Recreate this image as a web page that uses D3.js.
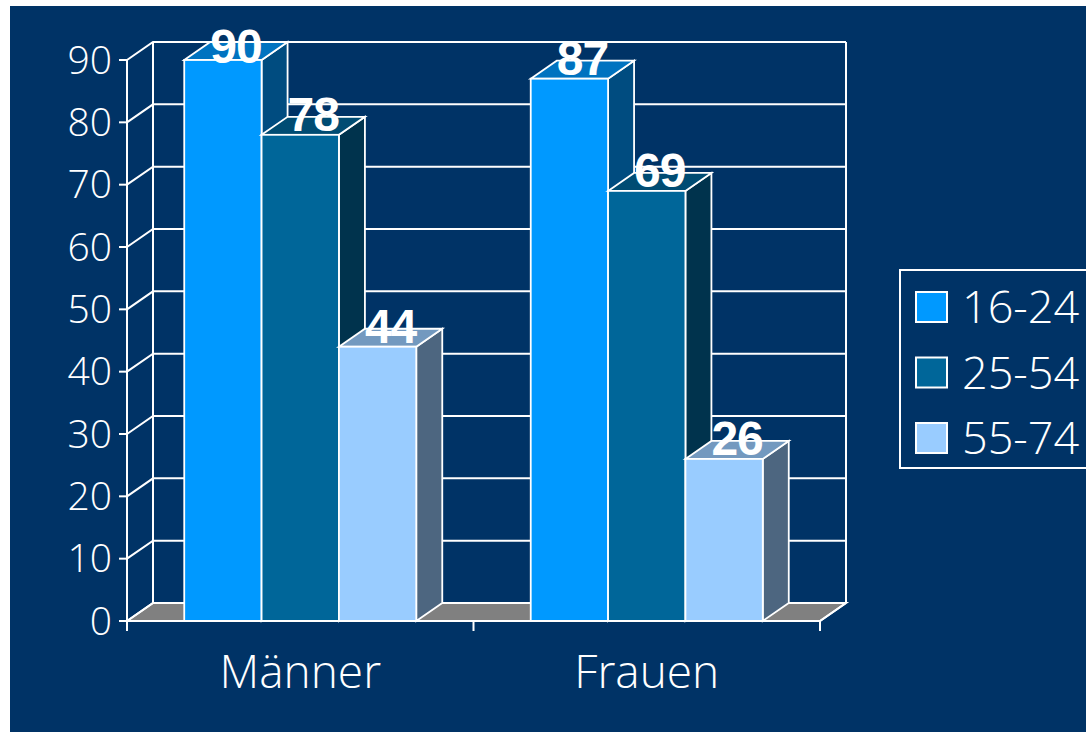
<!DOCTYPE html>
<html><head><meta charset="utf-8">
<script src="https://cdn.jsdelivr.net/npm/d3@7/dist/d3.min.js"></script>
<style>html,body{margin:0;padding:0;background:#fff;}svg{display:block;}</style>
</head><body>
<svg id="c" width="1086" height="732"></svg>
<script>
const categories = ["Männer", "Frauen"];
const seriesNames = ["16-24", "25-54", "55-74"];
const values16_24 = [90, 87];
const values25_54 = [78, 69];
const values55_74 = [44, 26];
const yTicks = [0, 10, 20, 30, 40, 50, 60, 70, 80, 90];

const seriesValues = [values16_24, values25_54, values55_74];
const frontColors = ["#0099FF", "#006699", "#99CCFF"];
const topColors = ["#0073C0", "#004C73", "#7399BF"];
const sideColors = ["#004C80", "#00334D", "#4D6680"];

const svg = d3.select("#c");
svg.append("rect").attr("x", 10).attr("y", 6).attr("width", 1076).attr("height", 726).attr("fill", "#003366");

const dx = 26, dy = -18;
const y = d3.scaleLinear().domain([0, 90]).range([621, 60]);
const x = d3.scaleBand().domain(categories).range([127, 820]).paddingInner(0).paddingOuter(0);
const xs = d3.scaleBand().domain(seriesNames).range([0, x.bandwidth()]).paddingInner(0).paddingOuter(0.74);

const x0 = 127, x1 = 820, y0 = y(0), yTop = y(90);
const white = "#FFFFFF";

// floor
svg.append("path")
  .attr("d", `M${x0},${y0}L${x0+dx},${y0+dy}L${x1+dx},${y0+dy}L${x1},${y0}Z`)
  .attr("fill", "#808080").attr("stroke", white).attr("stroke-width", 2);

// gridlines on back and side walls
const g = svg.append("g").attr("stroke", white).attr("stroke-width", 2).attr("fill", "none");
yTicks.forEach(t => {
  const yy = y(t);
  g.append("path").attr("d", `M${x0},${yy}L${x0+dx},${yy+dy}L${x1+dx},${yy+dy}`);
});
g.append("line").attr("x1", x0+dx).attr("x2", x0+dx).attr("y1", yTop+dy).attr("y2", y0+dy);
g.append("line").attr("x1", x1+dx).attr("x2", x1+dx).attr("y1", yTop+dy).attr("y2", y0+dy);

// bars
categories.forEach((c, ci) => {
  seriesNames.forEach((s, si) => {
    const v = seriesValues[si][ci];
    const bx = x(c) + xs(s), bw = xs.bandwidth();
    const by = y(v);
    const bg = svg.append("g").attr("stroke", white).attr("stroke-width", 1.8).attr("stroke-linejoin", "miter");
    bg.append("path").attr("fill", sideColors[si])
      .attr("d", `M${bx+bw},${by}L${bx+bw+dx},${by+dy}L${bx+bw+dx},${y0+dy}L${bx+bw},${y0}Z`);
    bg.append("path").attr("fill", topColors[si])
      .attr("d", `M${bx},${by}L${bx+dx},${by+dy}L${bx+bw+dx},${by+dy}L${bx+bw},${by}Z`);
    bg.append("rect").attr("fill", frontColors[si])
      .attr("x", bx).attr("y", by).attr("width", bw).attr("height", y0 - by);
  });
});

// front axis lines
const ax = svg.append("g").attr("stroke", white).attr("stroke-width", 2);
ax.append("line").attr("x1", x0).attr("x2", x1).attr("y1", y0).attr("y2", y0);
ax.append("line").attr("x1", x1).attr("x2", x1+dx).attr("y1", y0).attr("y2", y0+dy);
ax.append("line").attr("x1", x0).attr("x2", x0).attr("y1", yTop).attr("y2", y0 + 10);
yTicks.forEach(t => {
  ax.append("line").attr("x1", x0 - 8).attr("x2", x0).attr("y1", y(t)).attr("y2", y(t));
});
[x0, x0 + x.bandwidth(), x1].forEach(xx => {
  ax.append("line").attr("x1", xx).attr("x2", xx).attr("y1", y0).attr("y2", y0 + 10);
});

// y tick labels
svg.append("g").selectAll("text").data(yTicks).join("text")
  .attr("x", 112).attr("y", d => y(d)).attr("dy", "0.35em")
  .attr("text-anchor", "end").attr("fill", white)
  .attr("font-family", "'Open Sans', 'Liberation Sans', sans-serif").attr("font-weight", 300)
  .attr("font-size", 39).text(d => d);

// category labels
svg.append("g").selectAll("text").data(categories).join("text")
  .attr("x", d => x(d) + x.bandwidth() / 2).attr("y", 688)
  .attr("text-anchor", "middle").attr("fill", white)
  .attr("font-family", "'Open Sans', 'Liberation Sans', sans-serif").attr("font-weight", 300)
  .attr("font-size", 46).text(d => d);

// value labels
categories.forEach((c, ci) => {
  seriesNames.forEach((s, si) => {
    const v = seriesValues[si][ci];
    const bx = x(c) + xs(s), bw = xs.bandwidth();
    svg.append("text")
      .attr("x", bx + bw / 2 + dx / 2)
      .attr("y", Math.max(y(v) - 4, 63))
      .attr("text-anchor", "middle").attr("fill", white)
      .attr("font-family", "'Liberation Sans', Arial, sans-serif").attr("font-weight", "bold")
      .attr("font-size", 48).attr("letter-spacing", -1).text(v);
  });
});

// legend
const lg = svg.append("g");
lg.append("rect").attr("x", 900).attr("y", 270).attr("width", 200).attr("height", 198)
  .attr("fill", "none").attr("stroke", white).attr("stroke-width", 2);
seriesNames.forEach((s, i) => {
  const yy = 292 + i * 65.5;
  lg.append("rect").attr("x", 916).attr("y", yy).attr("width", 31).attr("height", 30)
    .attr("fill", frontColors[i]).attr("stroke", white).attr("stroke-width", 2);
  lg.append("text").attr("x", 962).attr("y", yy + 15).attr("dy", "0.36em")
    .attr("fill", white).attr("font-family", "'Open Sans', 'Liberation Sans', sans-serif")
    .attr("font-weight", 300).attr("font-size", 45).text(s);
});
</script>
</body></html>
